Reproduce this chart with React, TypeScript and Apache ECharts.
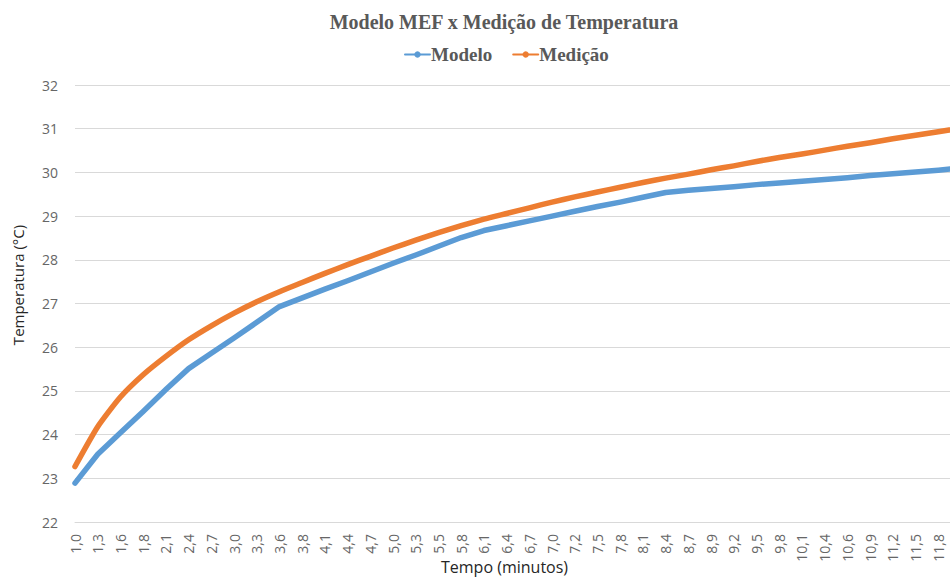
import React, { useEffect, useRef } from "react";
import * as echarts from "echarts";

const chartTitle = "Modelo MEF x Medição de Temperatura";
const xAxisName = "Tempo (minutos)";
const yAxisName = "Temperatura (°C)";

const tempoLabels = [
  "1,0", "1,3", "1,6", "1,8", "2,1", "2,4", "2,7", "3,0", "3,3", "3,6",
  "3,8", "4,1", "4,4", "4,7", "5,0", "5,3", "5,5", "5,8", "6,1", "6,4",
  "6,7", "7,0", "7,2", "7,5", "7,8", "8,1", "8,4", "8,7", "8,9", "9,2",
  "9,5", "9,8", "10,1", "10,4", "10,6", "10,9", "11,2", "11,5", "11,8", "12,1",
];

const modeloValues = [
  22.89, 23.55, 24.04, 24.53, 25.03, 25.51, 25.86, 26.21, 26.57, 26.93,
  27.13, 27.33, 27.52, 27.72, 27.92, 28.11, 28.31, 28.51, 28.67, 28.78,
  28.89, 29.0, 29.11, 29.22, 29.32, 29.43, 29.54, 29.59, 29.63, 29.67,
  29.72, 29.76, 29.8, 29.84, 29.88, 29.93, 29.97, 30.01, 30.05, 30.1,
];

const medicaoValues = [
  23.27, 24.18, 24.86, 25.37, 25.79, 26.17, 26.49, 26.78, 27.04, 27.27,
  27.48, 27.69, 27.89, 28.08, 28.27, 28.45, 28.62, 28.78, 28.93, 29.06,
  29.19, 29.32, 29.44, 29.55, 29.66, 29.77, 29.87, 29.96, 30.06, 30.15,
  30.25, 30.34, 30.42, 30.51, 30.6, 30.68, 30.77, 30.85, 30.93, 31.01,
];

const seriesNames = ["Modelo", "Medição"];

export default function App() {
  const ref = useRef<HTMLDivElement>(null);

  useEffect(() => {
    if (!ref.current) return;
    const chart = echarts.init(ref.current, null, { renderer: "svg" });
    const serif = "'Liberation Serif', 'DejaVu Serif', serif";
    const sans = "'Open Sans', 'Noto Sans', sans-serif";
    chart.setOption({
      animation: false,
      backgroundColor: "#ffffff",
      title: {
        text: chartTitle,
        left: 499,
        top: 7,
        textAlign: "center",
        textStyle: {
          fontFamily: serif,
          fontWeight: "bold",
          fontSize: 20,
          color: "#595959",
        },
      },
      legend: {
        data: seriesNames,
        left: 399,
        top: 40,
        itemWidth: 25,
        itemHeight: 8,
        itemGap: 20,
        textStyle: {
          fontFamily: serif,
          fontWeight: "bold",
          fontSize: 19,
          color: "#595959",
          padding: [0, 0, 0, -4],
        },
      },
      graphic: [
        {
          type: "text",
          left: 505 - 64,
          top: 558,
          style: {
            text: xAxisName,
            fontFamily: sans,
            fontSize: 16,
            lineHeight: 18,
            fill: "#262626",
          },
        },
      ],
      grid: {
        left: 75,
        right: -11,
        top: 85,
        bottom: 56,
        containLabel: false,
        outerBoundsMode: "none",
      },
      xAxis: {
        type: "category",
        data: tempoLabels,
        boundaryGap: false,
        axisLine: { show: true, lineStyle: { color: "#d9d9d9", width: 1 } },
        axisTick: { show: false },
        axisLabel: {
          interval: 0,
          rotate: 90,
          margin: 12,
          showMaxLabel: false,
          fontFamily: sans,
          fontSize: 14,
          lineHeight: 14,
          color: "#666666",
        },
        splitLine: { show: false },
      },
      yAxis: {
        type: "value",
        min: 22,
        max: 32,
        interval: 1,
        name: yAxisName,
        nameLocation: "middle",
        nameGap: 50,
        nameTextStyle: {
          fontFamily: sans,
          fontSize: 15,
          color: "#262626",
          padding: [0, 0, 0, 37],
        },
        axisLine: { show: false },
        axisTick: { show: false },
        axisLabel: {
          margin: 17,
          fontFamily: sans,
          fontSize: 14,
          color: "#666666",
        },
        splitLine: { show: true, lineStyle: { color: "#d9d9d9", width: 1 } },
      },
      series: [
        {
          name: seriesNames[0],
          type: "line",
          data: modeloValues,
          symbol: "circle",
          symbolSize: 6,
          showSymbol: false,
          smooth: false,
          itemStyle: { color: "#5B9BD5" },
          lineStyle: { color: "#5B9BD5", width: 5.5, cap: "round", join: "round" },
        },
        {
          name: seriesNames[1],
          type: "line",
          data: medicaoValues,
          symbol: "circle",
          symbolSize: 6,
          showSymbol: false,
          smooth: 0.2,
          itemStyle: { color: "#ED7D31" },
          lineStyle: { color: "#ED7D31", width: 5.5, cap: "round", join: "round" },
        },
      ],
    });
    return () => chart.dispose();
  }, []);

  return (
    <div
      ref={ref}
      style={{ position: "fixed", left: 0, top: 0, width: 950, height: 578 }}
    />
  );
}
